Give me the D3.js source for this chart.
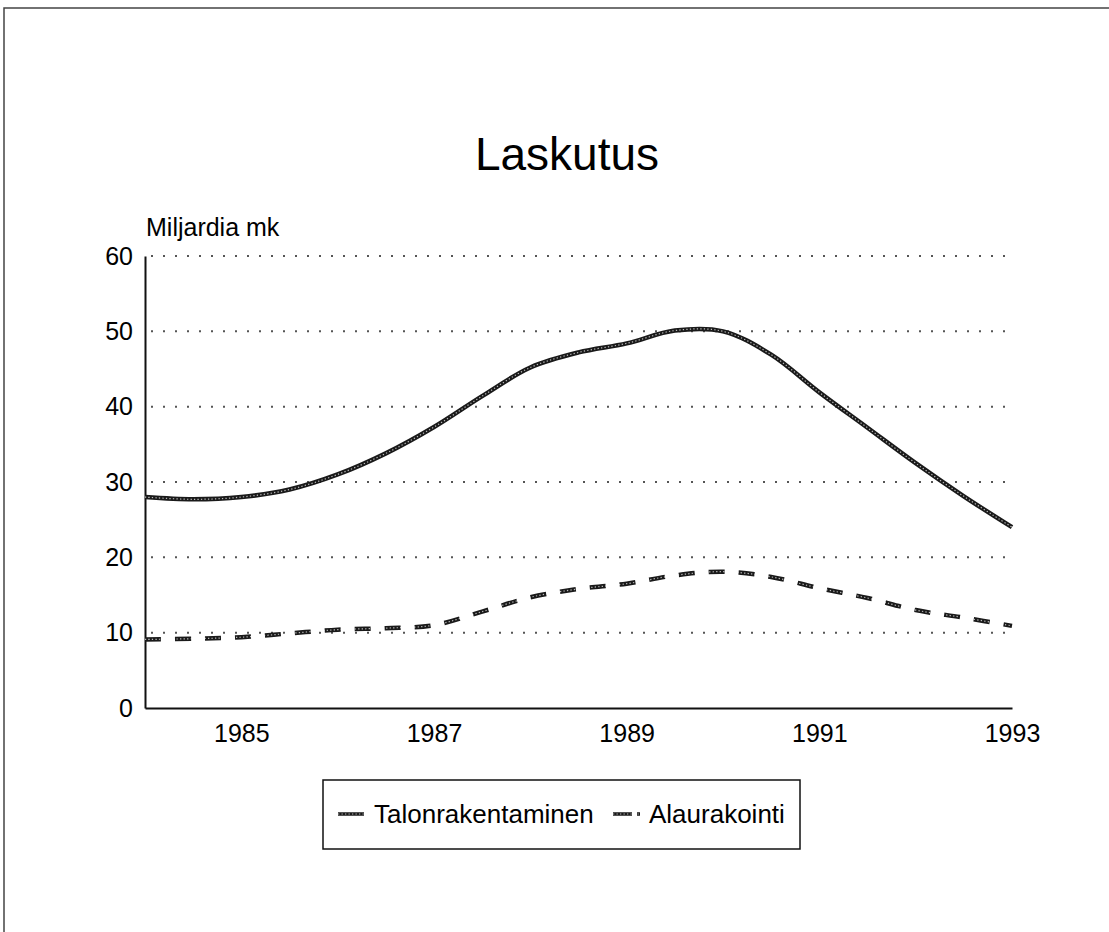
<!DOCTYPE html>
<html>
<head>
<meta charset="utf-8">
<script src="https://cdn.jsdelivr.net/npm/d3@7"></script>
<style>
  body { margin: 0; background: #fff; }
  svg { display: block; font-family: "Liberation Sans", Arial, sans-serif; }
</style>
</head>
<body>
<div id="chart"></div>
<script>
// half-year readings, 1984 - 1993
var years = [1984, 1984.5, 1985, 1985.5, 1986, 1986.5, 1987, 1987.5, 1988, 1988.5,
             1989, 1989.5, 1990, 1990.5, 1991, 1991.5, 1992, 1992.5, 1993];
var talonrakentaminen = [28.0, 27.7, 28.0, 29.0, 31.0, 33.8, 37.3, 41.4, 45.2, 47.2,
                         48.4, 50.1, 50.0, 46.9, 41.9, 37.2, 32.5, 28.1, 24.0];
var alaurakointi = [9.1, 9.2, 9.4, 9.9, 10.4, 10.6, 11.0, 12.8, 14.7, 15.8,
                    16.5, 17.6, 18.1, 17.4, 15.9, 14.6, 13.0, 12.0, 10.9];
var seriesNames = ['Talonrakentaminen', 'Alaurakointi'];
var xTicks = [1985, 1987, 1989, 1991, 1993];
var yTicks = [0, 10, 20, 30, 40, 50, 60];

var W = 1109, H = 932;
var svg = d3.select('#chart').append('svg').attr('width', W).attr('height', H);

// scanned page frame (only top/left edges show)
svg.append('path')
    .attr('d', 'M4,' + H + 'V8H' + W)
    .attr('fill', 'none').attr('stroke', '#444').attr('stroke-width', 1.5);

var x = d3.scaleLinear().domain([1984, 1993]).range([145, 1012]);
var y = d3.scaleLinear().domain([0, 60]).range([708, 256]);

svg.append('text')
    .attr('x', 567).attr('y', 170)
    .attr('text-anchor', 'middle')
    .attr('font-size', 46)
    .text('Laskutus');

svg.append('text')
    .attr('x', 146).attr('y', 236)
    .attr('font-size', 25)
    .text('Miljardia mk');

// dotted gridlines
svg.append('g').selectAll('line')
    .data(yTicks.filter(function(d) { return d > 0; }))
    .enter().append('line')
    .attr('x1', x(1984) + 6).attr('x2', x(1993) + 2)
    .attr('y1', function(d) { return y(d); })
    .attr('y2', function(d) { return y(d); })
    .attr('stroke', '#555')
    .attr('stroke-width', 2)
    .attr('stroke-dasharray', '2,10');

// axes
var yAxis = svg.append('g')
    .attr('transform', 'translate(' + x(1984) + ',0)')
    .call(d3.axisLeft(y).tickValues(yTicks).tickSize(0).tickPadding(12));
var xAxis = svg.append('g')
    .attr('transform', 'translate(0,' + y(0) + ')')
    .call(d3.axisBottom(x).tickValues(xTicks).tickFormat(d3.format('d')).tickSize(0).tickPadding(16));

[xAxis, yAxis].forEach(function(a) {
    a.select('.domain').attr('stroke', '#111').attr('stroke-width', 2);
    a.selectAll('text').attr('font-size', 25).attr('fill', '#000')
        .attr('font-family', '"Liberation Sans", Arial, sans-serif');
});

// lines
var line = d3.line()
    .x(function(d, i) { return x(years[i]); })
    .y(function(d) { return y(d); })
    .curve(d3.curveCatmullRom.alpha(0.5));

function drawSeries(values, dash) {
    svg.append('path')
        .attr('d', line(values))
        .attr('fill', 'none')
        .attr('stroke', '#1a1a1a')
        .attr('stroke-width', 4.5)
        .attr('stroke-dasharray', dash);
    // chain-like texture of the print
    svg.append('path')
        .attr('d', line(values))
        .attr('fill', 'none')
        .attr('stroke', '#fff')
        .attr('stroke-width', 1.2)
        .attr('stroke-dasharray', '1.3,2.2')
        .attr('opacity', 0.7);
}
drawSeries(talonrakentaminen, null);
drawSeries(alaurakointi, '16,14');

// legend
var leg = svg.append('g');
leg.append('rect')
    .attr('x', 323).attr('y', 780).attr('width', 477).attr('height', 69)
    .attr('fill', 'none').attr('stroke', '#111').attr('stroke-width', 1.5);

var legItems = [
    {name: seriesNames[0], x1: 338, x2: 364, tx: 374, dash: null},
    {name: seriesNames[1], x1: 613, x2: 642, tx: 649, dash: '19,5,3,10'}
];
legItems.forEach(function(d) {
    leg.append('line')
        .attr('x1', d.x1).attr('x2', d.x2).attr('y1', 814).attr('y2', 814)
        .attr('stroke', '#1a1a1a').attr('stroke-width', 3.5)
        .attr('stroke-dasharray', d.dash);
    leg.append('line')
        .attr('x1', d.x1).attr('x2', d.x2).attr('y1', 814).attr('y2', 814)
        .attr('stroke', '#fff').attr('stroke-width', 1)
        .attr('stroke-dasharray', '1.3,2.2').attr('opacity', 0.7);
    leg.append('text')
        .attr('x', d.tx).attr('y', 823)
        .attr('font-size', 26)
        .text(d.name);
});
</script>
</body>
</html>
